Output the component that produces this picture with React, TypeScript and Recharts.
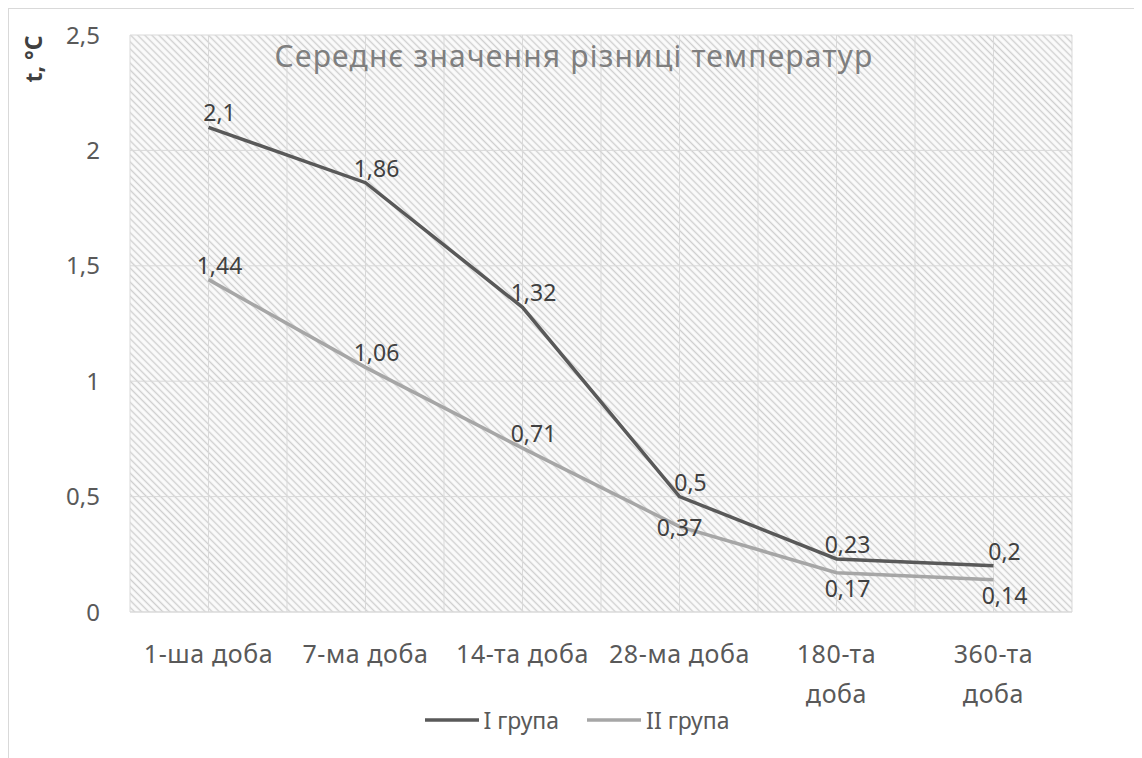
import React from 'react';
import { LineChart, Line, XAxis, YAxis, CartesianGrid, Legend, LabelList } from 'recharts';

const categories = ['1-ша доба', '7-ма доба', '14-та доба', '28-ма доба', '180-та\nдоба', '360-та\nдоба'];
const groupI = [2.1, 1.86, 1.32, 0.5, 0.23, 0.2];
const groupII = [1.44, 1.06, 0.71, 0.37, 0.17, 0.14];
const yTicks = [0, 0.5, 1, 1.5, 2, 2.5];
const seriesNames = ['I група', 'II група'];
const chartTitle = 'Середнє значення різниці температур';
const yTitle = 't, °C';

// where each data label sits relative to its point (Excel placed them by hand)
const placeI = ['above', 'above', 'above', 'above', 'above', 'above'];
const placeII = ['above', 'above', 'above', 'center', 'below', 'below'];

const data = categories.map((name, i) => ({ name, g1: groupI[i], g2: groupII[i] }));

const FONT = '"Noto Sans", "DejaVu Sans", sans-serif';
const COLOR_I = '#595959';
const COLOR_II = '#a6a6a6';
const W = 1130;
const H = 749;

const fmt = (v: number) => String(v).replace('.', ',');

const XTick = ({ x, y, payload }: any) => {
  const lines = String(payload.value).split('\n');
  return (
    <text x={x} y={y + 51} textAnchor="middle" fill="#595959" fontSize={25} letterSpacing={0.6} fontFamily={FONT}>
      {lines.map((l, i) => (
        <tspan key={i} x={x} dy={i === 0 ? 0 : 40}>{l}</tspan>
      ))}
    </text>
  );
};

const makeLabel = (place: string[]) => (props: any) => {
  const { x, y, value, index } = props;
  const p = place[index];
  const dy = p === 'above' ? -15 : p === 'below' ? 15 : 0;
  const dx = p === 'center' ? 0 : 11;
  return (
    <text x={x + dx} y={y + dy} textAnchor="middle" dominantBaseline="central"
          fill="#404040" fontSize={23} fontFamily={FONT}>
      {fmt(value)}
    </text>
  );
};

const LegendBox = () => (
  <div style={{ display: 'flex', justifyContent: 'center', alignItems: 'center', height: 30, fontFamily: FONT, fontSize: 23, color: '#595959', paddingLeft: 12 }}>
    {[COLOR_I, COLOR_II].map((c, i) => (
      <div key={i} style={{ display: 'flex', alignItems: 'center', margin: '0 14px' }}>
        <svg width={54} height={6} style={{ marginRight: 5 }}>
          <line x1={0} y1={3} x2={54} y2={3} stroke={c} strokeWidth={3.5} />
        </svg>
        <span>{seriesNames[i]}</span>
      </div>
    ))}
  </div>
);

export default function App() {
  return (
    <div style={{ width: W, height: H, border: '1px solid #d9d9d9', borderBottom: 'none', background: '#fff' }}>
      <LineChart width={W} height={H} data={data} margin={{ top: 26, right: 67, left: 61, bottom: 23 }}>
        <defs>
          <pattern id="hatch" width="5" height="5" patternUnits="userSpaceOnUse" patternTransform="rotate(-45)">
            <rect width="5" height="5" fill="#fbfbfb" />
            <line x1="2.5" y1="0" x2="2.5" y2="5" stroke="#cfcfcf" strokeWidth="1.4" />
          </pattern>
        </defs>
        <CartesianGrid
          stroke="#d9d9d9"
          fill="url(#hatch)"
          fillOpacity={1}
          verticalCoordinatesGenerator={({ offset }: any) =>
            Array.from({ length: categories.length * 2 + 1 }, (_, i) => offset.left + (i * offset.width) / (categories.length * 2))
          }
        />
        <XAxis dataKey="name" scale="band" height={93} tickLine={false} tickSize={0} tickMargin={0}
               axisLine={{ stroke: '#d9d9d9' }} tick={<XTick />} interval={0} />
        <YAxis width={60} domain={[0, 2.5]} ticks={yTicks} axisLine={false} tickLine={false}
               tickSize={0} tickMargin={30} tickFormatter={fmt}
               tick={{ fill: '#595959', fontSize: 24, fontFamily: FONT }} />
        <Legend verticalAlign="bottom" height={30} content={() => <LegendBox />} />
        <Line dataKey="g1" name={seriesNames[0]} stroke={COLOR_I} strokeWidth={3.5} dot={false} isAnimationActive={false}>
          <LabelList dataKey="g1" content={makeLabel(placeI)} />
        </Line>
        <Line dataKey="g2" name={seriesNames[1]} stroke={COLOR_II} strokeWidth={3.5} dot={false} isAnimationActive={false}>
          <LabelList dataKey="g2" content={makeLabel(placeII)} />
        </Line>
        <text x={W / 2} y={46} textAnchor="middle" dominantBaseline="central" fill="#7f7f7f" fontSize={30}
              letterSpacing={1.2} fontFamily={FONT}>
          {chartTitle}
        </text>
        <text transform="translate(24,50) rotate(-90)" textAnchor="middle" dominantBaseline="central"
              fill="#404040" fontSize={23} fontWeight="bold" fontFamily={FONT}>
          {yTitle}
        </text>
      </LineChart>
    </div>
  );
}
